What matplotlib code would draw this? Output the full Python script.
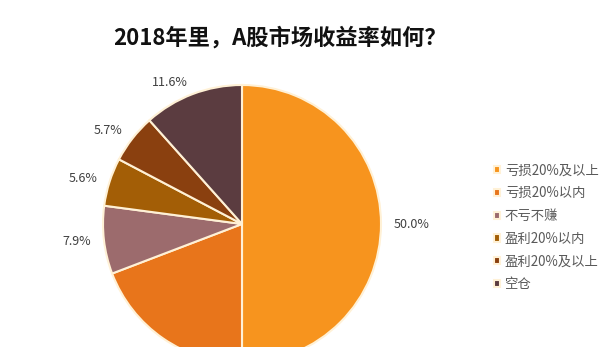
import matplotlib.pyplot as plt

plt.rcParams['font.family'] = ['Noto Sans CJK SC', 'DejaVu Sans']

categories = ['亏损20%及以上', '亏损20%以内', '不亏不赚', '盈利20%以内', '盈利20%及以上', '空仓']
shares = [50.0, 19.2, 7.9, 5.6, 5.7, 11.6]
colors = ['#F7941E', '#E8751B', '#9C6B6D', '#A35E06', '#8A400F', '#5B3C40']
# the 19.2% label sits below the visible area in the reference
shown = [True, False, True, True, True, True]

fig = plt.figure(figsize=(6, 3.47), dpi=100)
ax = fig.add_axes([0, 0, 1, 1])

labels = [f'{v:.1f}%' if s else '' for v, s in zip(shares, shown)]
# radius in pixel units; axes spans the whole figure, pie centre at px (242, 224)
wedges, texts = ax.pie(
    shares, colors=colors, startangle=90, counterclock=False,
    labels=labels, labeldistance=1.09, radius=139, frame=True,
    wedgeprops=dict(edgecolor='#FFF1D6', linewidth=1.5),
    textprops=dict(fontsize=9, color='#404040'))
ax.set_xlim(-242, 358)
ax.set_ylim(-123, 224)
ax.axis('off')

fig.text(0.467, 0.89, '2018年里，A股市场收益率如何？', ha='center', va='center',
         fontsize=16, fontweight='bold', color='#111111')

leg = ax.legend(wedges, categories, loc='upper left', bbox_to_anchor=(0.808, 0.556),
                bbox_transform=fig.transFigure, frameon=False, fontsize=9.6,
                handlelength=0.45, handleheight=0.45, handletextpad=0.35,
                labelspacing=0.66, labelcolor='#595959', borderpad=0.2)

fig.savefig('out.png', dpi=100)
